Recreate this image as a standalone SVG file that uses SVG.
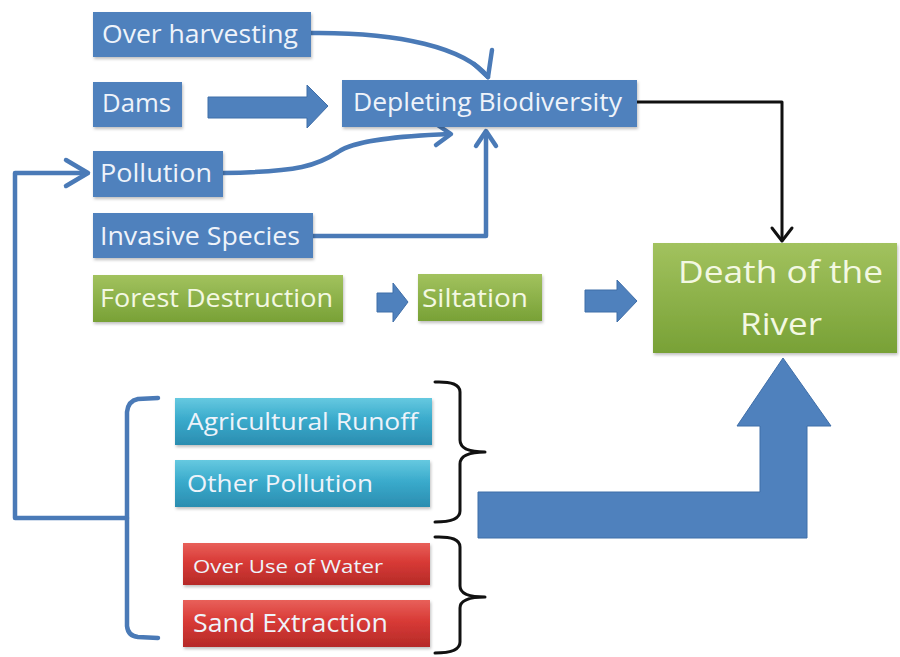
<svg xmlns="http://www.w3.org/2000/svg" width="900" height="657" viewBox="0 0 900 657">
<defs>
<linearGradient id="gGreen" x1="0" y1="0" x2="0" y2="1">
<stop offset="0" stop-color="#a2c25e"/><stop offset="1" stop-color="#78a136"/>
</linearGradient>
<linearGradient id="gTeal" x1="0" y1="0" x2="0" y2="1">
<stop offset="0" stop-color="#66c9e0"/><stop offset="0.45" stop-color="#3aabcc"/><stop offset="1" stop-color="#2b8db0"/>
</linearGradient>
<linearGradient id="gRed" x1="0" y1="0" x2="0" y2="1">
<stop offset="0" stop-color="#e8605a"/><stop offset="0.45" stop-color="#d83a36"/><stop offset="1" stop-color="#b52a28"/>
</linearGradient>
<filter id="sh" x="-5%" y="-10%" width="110%" height="130%">
<feDropShadow dx="1" dy="2" stdDeviation="1.5" flood-color="#000" flood-opacity="0.25"/>
</filter>
</defs>
<style>
.blue{fill:#4f81bd;filter:url(#sh)}
.green{fill:url(#gGreen);filter:url(#sh)}
.teal{fill:url(#gTeal);filter:url(#sh)}
.red{fill:url(#gRed);filter:url(#sh)}
.t{font-family:"Open Sans","Liberation Sans",sans-serif;fill:#eef3fa}
.tg{font-family:"Open Sans","Liberation Sans",sans-serif;fill:#f3f8e2}
.con{fill:none;stroke:#4a7ab7;stroke-width:4.5;stroke-linecap:round;stroke-linejoin:round}
.blk{fill:none;stroke:#111;stroke-width:3;stroke-linejoin:round;stroke-linecap:round}
.fat{fill:#4f81bd;stroke:#3f6ea8;stroke-width:1}
</style>
<rect width="900" height="657" fill="#ffffff"/>

<g id="connectors">
<!-- Over harvesting -> Depleting -->
<path class="con" d="M311,33 C400,32 465,48 488,77"/>
<path class="con" d="M474,64 L488,77 L492,50"/>
<!-- Dams fat arrow -->
<polygon class="fat" points="208,97 307,97 307,85 328,106 307,128 307,118 208,118"/>
<!-- Pollution -> Depleting -->
<path class="con" d="M223,173 C300,172 318,165 338,152 C355,140 400,136 450,134"/>
<path class="con" d="M436,124 L451,134 L436,145"/>
<!-- Invasive -> Depleting -->
<path class="con" d="M313,236 L486,236 L486,132"/>
<path class="con" d="M476,146 L486,131 L496,146"/>
<!-- Feedback line to Pollution -->
<path class="con" d="M127,518 L15,518 L15,173 L86,173"/>
<path class="con" d="M66,160 L88,173 L66,186"/>
<!-- Blue left brace -->
<path class="con" d="M158,398 L138,399 Q128,401 127,412 L127,626 Q128,636 138,637 L158,638"/>
<!-- Depleting -> Death (black) -->
<path class="blk" d="M637,102 L782,102 L782,240"/>
<path class="blk" d="M772,228 L782,241 L792,228"/>
<!-- Forest -> Siltation -->
<polygon class="fat" points="377,293 393,293 393,283 408,302 393,322 393,312 377,312"/>
<!-- Siltation -> Death -->
<polygon class="fat" points="585,290 617,290 617,280 637,301 617,322 617,312 585,312"/>
<!-- Black braces -->
<path class="blk" d="M435,382 Q460,381 460,392 L460,440 Q460,452 485,452 Q460,452 460,464 L460,511 Q460,522 435,522"/>
<path class="blk" d="M435,537 Q460,536 460,547 L460,586 Q460,597 485,597 Q460,597 460,608 L460,642 Q460,653 435,653"/>
<!-- Big bent arrow -->
<polygon class="fat" points="478,492 760,492 760,426 737,426 783,358 831,426 807,426 807,538 478,538"/>
</g>

<g id="over-harvesting">
<rect class="blue" x="93" y="12" width="218" height="45"/>
<text class="t" x="102" y="43" font-size="25" textLength="196" lengthAdjust="spacingAndGlyphs">Over harvesting</text>
</g>
<g id="dams">
<rect class="blue" x="93" y="82" width="89" height="45"/>
<text class="t" x="102" y="112" font-size="25" textLength="69" lengthAdjust="spacingAndGlyphs">Dams</text>
</g>
<g id="depleting-biodiversity">
<rect class="blue" x="342" y="80" width="295" height="47"/>
<text class="t" x="353" y="111" font-size="25" textLength="269" lengthAdjust="spacingAndGlyphs">Depleting Biodiversity</text>
</g>
<g id="pollution">
<rect class="blue" x="93" y="151" width="130" height="46"/>
<text class="t" x="100" y="182" font-size="25" textLength="112" lengthAdjust="spacingAndGlyphs">Pollution</text>
</g>
<g id="invasive-species">
<rect class="blue" x="93" y="213" width="220" height="45"/>
<text class="t" x="100" y="245" font-size="25" textLength="200" lengthAdjust="spacingAndGlyphs">Invasive Species</text>
</g>
<g id="forest-destruction">
<rect class="green" x="93" y="275" width="250" height="47"/>
<text class="tg" x="100" y="307" font-size="25" textLength="233" lengthAdjust="spacingAndGlyphs">Forest Destruction</text>
</g>
<g id="siltation">
<rect class="green" x="418" y="274" width="124" height="47"/>
<text class="tg" x="422" y="307" font-size="25" textLength="106" lengthAdjust="spacingAndGlyphs">Siltation</text>
</g>
<g id="death-of-the-river">
<rect class="green" x="653" y="243" width="244" height="110"/>
<text class="tg" x="678" y="283" font-size="31" textLength="205" lengthAdjust="spacingAndGlyphs">Death of the</text>
<text class="tg" x="740" y="335" font-size="31" textLength="82" lengthAdjust="spacingAndGlyphs">River</text>
</g>
<g id="agricultural-runoff">
<rect class="teal" x="175" y="398" width="257" height="47"/>
<text class="t" x="187" y="430" font-size="24" textLength="231" lengthAdjust="spacingAndGlyphs">Agricultural Runoff</text>
</g>
<g id="other-pollution">
<rect class="teal" x="175" y="460" width="255" height="47"/>
<text class="t" x="187" y="492" font-size="24" textLength="186" lengthAdjust="spacingAndGlyphs">Other Pollution</text>
</g>
<g id="over-use-of-water">
<rect class="red" x="183" y="543" width="247" height="42"/>
<text class="t" x="193" y="573" font-size="18" textLength="190" lengthAdjust="spacingAndGlyphs">Over Use of Water</text>
</g>
<g id="sand-extraction">
<rect class="red" x="183" y="600" width="247" height="47"/>
<text class="t" x="193" y="632" font-size="25" textLength="195" lengthAdjust="spacingAndGlyphs">Sand Extraction</text>
</g>
</svg>
